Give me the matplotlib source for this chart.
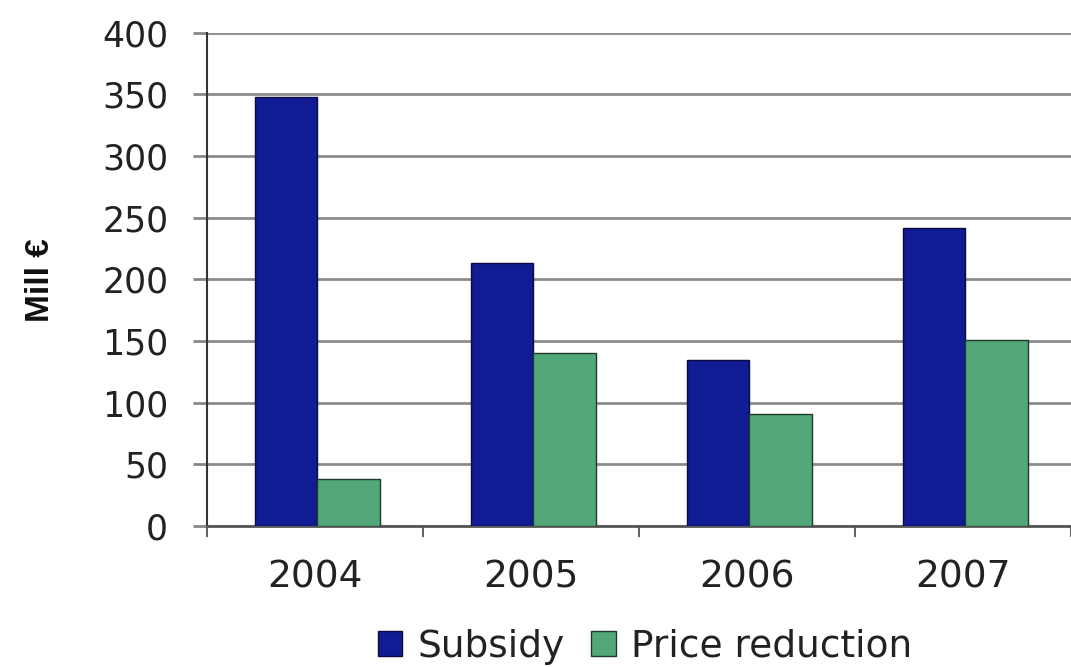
import matplotlib.pyplot as plt
import numpy as np

years = ['2004', '2005', '2006', '2007']
subsidy = [348, 213, 135, 242]
price_reduction = [38, 140, 91, 151]
yticks = [0, 50, 100, 150, 200, 250, 300, 350, 400]

plt.rcParams['font.family'] = ['DejaVu Sans']

fig = plt.figure(figsize=(10.71, 6.67), dpi=100)
ax = fig.add_axes([0.1933, 0.2114, 0.8067, 0.7396])

x = np.arange(len(years))
w = 0.29
ax.bar(x - w / 2 + 0.01, subsidy, w, color='#111b93', edgecolor='#0a0a40', linewidth=1, label='Subsidy', zorder=3)
ax.bar(x + w / 2 + 0.01, price_reduction, w, color='#52a878', edgecolor='#1f3a2a', linewidth=1, label='Price reduction', zorder=3)

ax.set_ylim(0, 400)
ax.set_yticks(yticks)
ax.set_xlim(-0.5, 3.41)
ax.set_xticks(np.arange(-0.5, 4, 1))
ax.set_xticklabels([])
ax.set_xticks(x, minor=True)
ax.set_xticklabels(years, minor=True)
ax.tick_params(axis='x', which='minor', length=0, pad=24, labelsize=27, labelcolor='#222222')
ax.tick_params(axis='x', which='major', length=8, width=1.2, color='#444444', direction='out')
ax.tick_params(axis='y', length=10, width=2, color='#888888', labelsize=25, pad=18, labelcolor='#222222')
ax.yaxis.grid(True, color='#8c8c8c', linewidth=2, zorder=0)

for s in ['top', 'right']:
    ax.spines[s].set_visible(False)
ax.spines['left'].set_color('#333333')
ax.spines['left'].set_linewidth(1.5)
ax.spines['bottom'].set_color('#555555')
ax.spines['bottom'].set_linewidth(2)

fig.text(0.038, 0.58, 'Mill €', rotation=90, ha='center', va='center',
         fontsize=24, fontweight='bold', family=['Liberation Sans', 'DejaVu Sans'], color='#111111')

fig.legend(loc='center', bbox_to_anchor=(0.602, 0.03), ncol=2, frameon=False,
           fontsize=27, handlelength=0.66, handleheight=0.66, handletextpad=0.4,
           columnspacing=0.7, borderpad=0, labelcolor='#222222')

fig.savefig('out.png', dpi=100)
